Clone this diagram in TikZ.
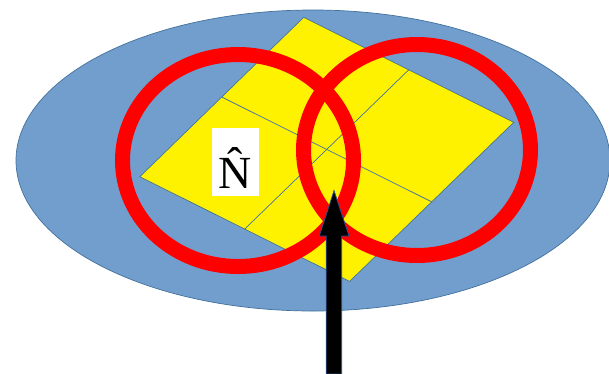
\documentclass[tikz,border=0pt]{standalone}
\usepackage{fontspec}
\setmainfont{Liberation Serif}
\usetikzlibrary{calc}
\definecolor{bluefill}{RGB}{114,158,206}
\definecolor{blueline}{RGB}{65,113,156}
\definecolor{arrowline}{RGB}{47,82,143}
\tikzset{
  thinblue/.style={draw=blueline, line width=0.7pt},
  ring/.style={draw=red, line width=15pt},
  blockarrow/.style={fill=black, draw=arrowline, line width=0.8pt, line join=miter},
  labelbox/.style={fill=white, inner sep=0pt, minimum width=46.7pt, text height=60.6pt, text depth=7.4pt, align=center, font=\fontsize{46}{46}\selectfont}
}
\begin{document}
\begin{tikzpicture}[x=1pt,y=-1pt]
\useasboundingbox (0,0) rectangle (609,373);
\clip (0,0) rectangle (609,373);
% background ellipse
\fill[bluefill, thinblue] (313,160.5) ellipse [x radius=297, y radius=150.5];
% yellow parallelogram
\coordinate (L) at (139.8,176.7);
\coordinate (T) at (303.7,17.3);
\coordinate (R) at (513.8,122.3);
\coordinate (B) at (349.6,281.4);
\filldraw[fill=yellow, thinblue] (L) -- (T) -- (R) -- (B) -- cycle;
\draw[thinblue] ($(L)!0.5!(T)$) -- ($(R)!0.5!(B)$);
\draw[thinblue] ($(T)!0.5!(R)$) -- ($(B)!0.5!(L)$);
% label
\node[labelbox, anchor=base] (lbl) at (235.3,188.3) {\accent"02C6 N};
% red rings
\draw[ring] (238,160.5) ellipse [x radius=115.5, y radius=106];
\draw[ring] (417,150) ellipse [x radius=113.5, y radius=105.5];
% block arrow
\filldraw[blockarrow] (326.2,374) -- (326.2,236) -- (319.3,236) -- (334,190.7)
  -- (349,236) -- (341.7,236) -- (341.7,374) -- cycle;
\end{tikzpicture}
\end{document}
